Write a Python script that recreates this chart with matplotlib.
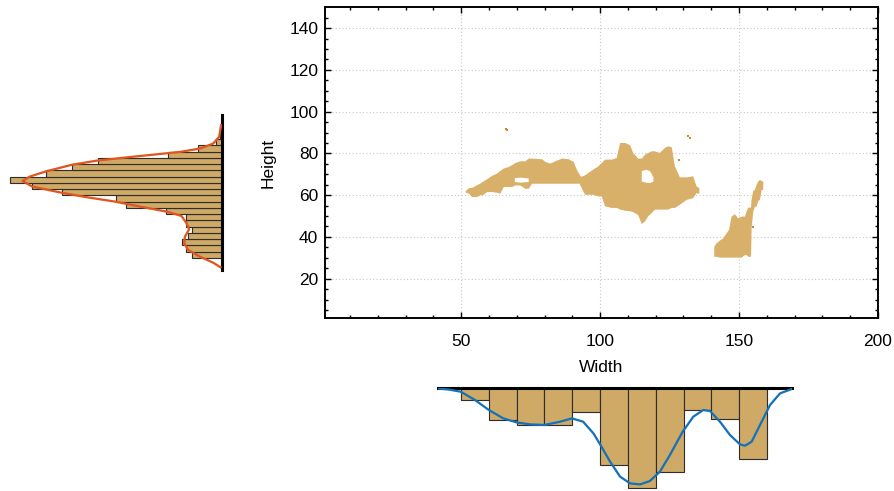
import numpy as np
import matplotlib
matplotlib.use('Agg')
import matplotlib.pyplot as plt

plt.rcParams['font.family'] = ['Liberation Sans', 'DejaVu Sans']
plt.rcParams['hatch.linewidth'] = 0.8
POINT_COLOR = '#C48A2A'
POINT_FACE = '#F1DCB2'
plt.rcParams['hatch.color'] = POINT_COLOR

# ---------------- scatter cloud outlines (Width vs Height) ----------------
s1_x = [51.7, 52.9, 53.9, 55.7, 56.9, 58.1, 59.3, 61.1, 62.9, 64.1, 65.3, 67.1, 68.3, 69.5,
        71.3, 73.1, 74.3, 75.5, 79.1, 80.3, 82.1, 83.9, 86.3, 88.7, 90.5, 91.7, 92.9, 94.1]
s1_top = [62.0, 63.4, 63.4, 64.7, 65.5, 66.6, 67.6, 69.2, 70.3, 71.6, 72.7, 73.5, 74.3, 75.4,
          76.2, 76.2, 77.5, 77.5, 77.2, 75.9, 75.1, 76.2, 77.5, 77.2, 75.9, 71.9, 69.2, 67.9]
s1_bot = [61.2, 60.7, 59.1, 59.1, 59.9, 60.2, 61.5, 61.5, 61.2, 60.7, 63.9, 63.9, 63.9, 64.7,
          64.7, 63.1, 63.1, 65.5, 65.5, 65.5, 65.5, 65.5, 65.5, 65.5, 65.5, 65.5, 65.5, 64.0]

s2_x = [92.8, 94.6, 97.5, 99.4, 100.6, 101.8, 104.2, 106.0, 107.2, 109.0, 110.8, 111.9, 113.7, 115.0,
        116.2, 117.3, 118.6, 119.7, 121.5, 123.3, 124.5, 125.8, 126.9, 128.7, 131.2, 133.5, 134.7, 135.7]
s2_top = [68.5, 69.5, 72.2, 73.8, 75.4, 77.0, 77.0, 77.8, 85.0, 85.0, 83.9, 80.2, 77.5, 77.5,
          79.4, 80.2, 81.0, 81.0, 80.2, 82.6, 83.4, 82.9, 73.8, 68.5, 68.5, 69.0, 64.2, 63.4]
s2_bot = [65.0, 60.2, 60.2, 59.4, 59.4, 54.7, 53.9, 53.9, 53.1, 52.6, 52.3, 51.9, 50.5, 46.2,
          47.5, 49.9, 51.5, 53.1, 53.1, 53.1, 53.1, 53.9, 53.9, 55.4, 57.8, 58.6, 61.0, 60.6]

s3_x = [141.1, 141.9, 143.1, 144.3, 145.5, 146.4, 147.3, 148.5, 149.7, 150.9, 152.1, 152.7,
        153.3, 154.3, 154.5, 155.1, 155.7, 156.3, 156.9, 157.5, 158.1, 158.7]
s3_top = [35.3, 36.9, 38.2, 39.3, 41.7, 43.3, 49.7, 50.8, 48.9, 49.7, 49.7, 52.1,
          54.0, 54.0, 57.7, 62.0, 62.5, 64.9, 66.5, 67.3, 66.8, 66.5]
s3_bot = [30.5, 30.5, 30.1, 30.1, 30.1, 30.1, 30.1, 30.1, 30.1, 30.1, 31.3, 31.3,
          30.5, 30.5, 44.1, 52.1, 54.5, 54.5, 57.2, 57.7, 62.5, 62.5]

# holes inside the clouds
h1_x = [69.3, 71.5, 74.3]
h1_top = [68.2, 68.4, 68.0]
h1_bot = [66.3, 66.0, 66.3]
h2_x = [115.0, 116.5, 118.0, 119.2]
h2_top = [71.5, 72.2, 71.5, 68.5]
h2_bot = [66.5, 66.0, 65.8, 66.5]

# isolated points
iso_x = [66.1, 66.6, 131.6, 132.3, 128.4, 155.1]
iso_y = [91.7, 91.0, 88.4, 87.6, 77.0, 44.9]

# ---------------- marginal histogram: Width (bottom) ----------------
w_edges = [50, 60, 70, 80, 90, 100, 110, 120, 130, 140, 150, 160]
w_counts = [12, 32, 37, 37, 24, 77, 100, 84, 22, 31, 71]
w_curve_x = [41.2, 45.5, 49.9, 55.0, 60.0, 65.2, 70.0, 74.8, 79.9, 85.6, 89.9, 93.9, 97.6, 99.8,
             103.6, 107.2, 110.8, 114.4, 117.9, 121.5, 125.1, 129.7, 133.5, 137.1, 139.5,
             143.1, 146.7, 150.3, 152.1, 154.5, 157.5, 161.1, 164.7, 168.9]
w_curve_y = [0.7, 1.8, 4.0, 12.3, 22.3, 30.7, 34.7, 36.7, 37.3, 34.0, 30.7, 34.0, 45.7, 55.7,
             74.0, 89.0, 95.7, 96.7, 93.3, 84.0, 67.3, 44.0, 29.0, 22.3, 23.3,
             34.0, 47.3, 56.7, 58.0, 54.0, 37.3, 17.3, 5.7, 1.3]

# ---------------- marginal histogram: Height (left) ----------------
h_edges = [29.9, 32.9, 35.9, 38.9, 41.9, 44.9, 47.9, 50.9, 53.9, 56.9, 59.9, 62.9, 65.9,
           68.9, 71.9, 74.9, 77.9, 80.9, 83.9, 86.9, 89.9, 92.9]
h_counts = [15, 18, 20, 17, 15, 18, 18, 28, 48, 53, 80, 95, 106, 88, 75, 62, 27, 12, 3, 1, 1]
h_curve_y = [93.5, 87.9, 84.7, 82.3, 80.7, 78.4, 76.5, 74.5, 71.3, 68.9, 66.8, 64.1, 61.2,
             59.0, 56.9, 54.5, 52.1, 50.0, 46.5, 43.6, 40.1, 36.9, 33.7, 30.5, 27.6, 25.4]
h_curve_x = [0.2, 1.2, 4.2, 10.8, 20.8, 44.2, 62.5, 75.0, 88.0, 95.8, 99.5, 94.7, 80.3,
             67.5, 53.3, 40.8, 27.5, 20.0, 17.5, 16.2, 18.3, 18.7, 16.7, 10.8, 4.2, 0.5]

BAR_COLOR = '#CFAA66'
BAR_EDGE = '#2E2E2E'
DPI = 96
FS = 13

fig = plt.figure(figsize=(894 / DPI, 491 / DPI), dpi=DPI)

# ---------------- main scatter axes ----------------
ax = fig.add_axes([0.3635, 0.3517, 0.6186, 0.6334])
ax.set_axisbelow(True)
for xs, tp, bt in [(s1_x, s1_top, s1_bot), (s2_x, s2_top, s2_bot), (s3_x, s3_top, s3_bot)]:
    ax.fill_between(xs, bt, tp, facecolor=POINT_FACE, edgecolor=POINT_COLOR,
                    hatch='||||||||', linewidth=0, zorder=2)
for xs, tp, bt in [(h1_x, h1_top, h1_bot), (h2_x, h2_top, h2_bot)]:
    ax.fill_between(xs, bt, tp, facecolor='white', edgecolor='none', linewidth=0, zorder=3)
ax.scatter(iso_x, iso_y, marker='s', s=2.5, color=POINT_COLOR, linewidths=0, zorder=4)

ax.set_xlim(1, 200)
ax.set_ylim(1, 150)
ax.set_xticks([50, 100, 150, 200])
ax.set_yticks([20, 40, 60, 80, 100, 120, 140])
ax.set_xticks(np.arange(10, 200, 10), minor=True)
ax.set_yticks(np.arange(5, 150, 5), minor=True)
ax.grid(True, which='major', color='#C8C8C8', linestyle=(0, (1, 2)), linewidth=0.85)
ax.tick_params(which='both', direction='in', top=True, right=True, width=1.05,
               labelsize=FS, colors='black')
ax.tick_params(which='major', length=4.2)
ax.tick_params(which='minor', length=2.3)
ax.tick_params(axis='x', which='major', pad=12)
ax.tick_params(axis='y', which='major', pad=5)
for sp in ax.spines.values():
    sp.set_linewidth(1.45)
ax.set_xlabel('Width', fontsize=FS, labelpad=8)
ax.set_ylabel('Height', fontsize=FS, labelpad=10)

# ---------------- left marginal (Height) ----------------
axl = fig.add_axes([0.0056, 0.4501, 0.2422, 0.3157])
h_centers = [(a + b) / 2 for a, b in zip(h_edges[:-1], h_edges[1:])]
axl.barh(h_centers, h_counts, height=3.0, color=BAR_COLOR, edgecolor=BAR_EDGE,
         linewidth=0.85, zorder=2)
axl.plot(h_curve_x, h_curve_y, color='#E0561E', linewidth=1.7, zorder=3)
axl.set_xlim(108.25, 0)
axl.set_ylim(24.1, 98.4)
for k in ['left', 'top', 'bottom']:
    axl.spines[k].set_visible(False)
axl.spines['right'].set_linewidth(2.3)
axl.set_xticks([])
axl.set_yticks([])
axl.patch.set_alpha(0)

# ---------------- bottom marginal (Width) ----------------
axb = fig.add_axes([0.4899, 0.0, 0.396, 0.2104])
w_centers = [(a + b) / 2 for a, b in zip(w_edges[:-1], w_edges[1:])]
axb.bar(w_centers, w_counts, width=10, color=BAR_COLOR, edgecolor=BAR_EDGE,
        linewidth=0.85, zorder=2)
axb.plot(w_curve_x, w_curve_y, color='#1672B8', linewidth=1.7, zorder=3)
axb.set_xlim(41.7, 169.0)
axb.set_ylim(103.3, 0)
for k in ['left', 'right', 'bottom']:
    axb.spines[k].set_visible(False)
axb.spines['top'].set_linewidth(2.3)
axb.set_xticks([])
axb.set_yticks([])
axb.patch.set_alpha(0)

fig.savefig('out.png', dpi=DPI)
